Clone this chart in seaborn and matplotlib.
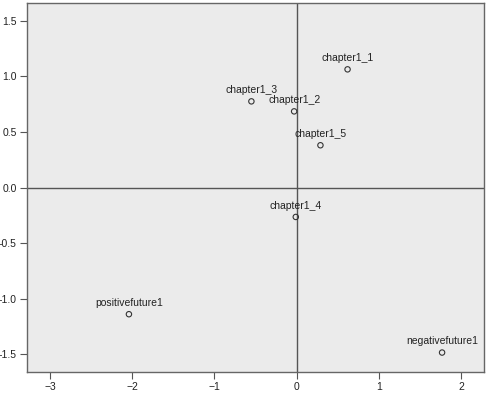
import matplotlib
matplotlib.use("Agg")
import matplotlib.pyplot as plt
import seaborn as sns
import pandas as pd

labels = ["chapter1_1", "chapter1_3", "chapter1_2", "chapter1_5", "chapter1_4",
          "positivefuture1", "negativefuture1"]
xs = [0.62, -0.55, -0.03, 0.29, -0.01, -2.04, 1.77]
ys = [1.063, 0.775, 0.685, 0.38, -0.265, -1.14, -1.485]
xticks = [-3, -2, -1, 0, 1, 2]
yticks = [-1.5, -1.0, -0.5, 0.0, 0.5, 1.0, 1.5]

df = pd.DataFrame({"label": labels, "x": xs, "y": ys})

sns.set_theme(style="white")
plt.rcParams['font.family'] = ['Liberation Sans', 'DejaVu Sans']

fig = plt.figure(figsize=(4.87, 3.98), dpi=100)
ax = fig.add_axes([27/487, 26/398, 457/487, 369/398])
ax.set_facecolor("#ebebeb")

ax.axhline(0, color="#555555", lw=1.0, zorder=1)
ax.axvline(0, color="#555555", lw=1.0, zorder=1)

sns.scatterplot(data=df, x="x", y="y", ax=ax, marker="o", s=15,
                facecolor="none", edgecolor="#333333", linewidth=0.8, zorder=3)

for lab, x, y in zip(labels, xs, ys):
    ax.annotate(lab, (x, y), xytext=(0, 4.5), textcoords="offset points",
                ha="center", va="bottom", fontsize=7.5, color="#222222", zorder=4)

ax.set_xlim(-3.28, 2.28)
ax.set_ylim(-1.66, 1.66)
ax.set_xticks(xticks)
ax.set_xticklabels(["\u22123", "\u22122", "\u22121", "0", "1", "2"])
ax.set_yticks(yticks)
ax.set_yticklabels([f"{v:.1f}" if v >= 0 else f"-{abs(v):.1f}" for v in yticks])
ax.set_xlabel("")
ax.set_ylabel("")
ax.tick_params(axis="both", direction="out", length=5, width=0.8, color="#555555",
               labelsize=7.5, labelcolor="#222222", pad=2.5)
ax.tick_params(axis="x", bottom=True)
ax.tick_params(axis="y", left=True)
for sp in ax.spines.values():
    sp.set_color("#666666")
    sp.set_linewidth(1.0)

fig.savefig("out.png", dpi=100)
